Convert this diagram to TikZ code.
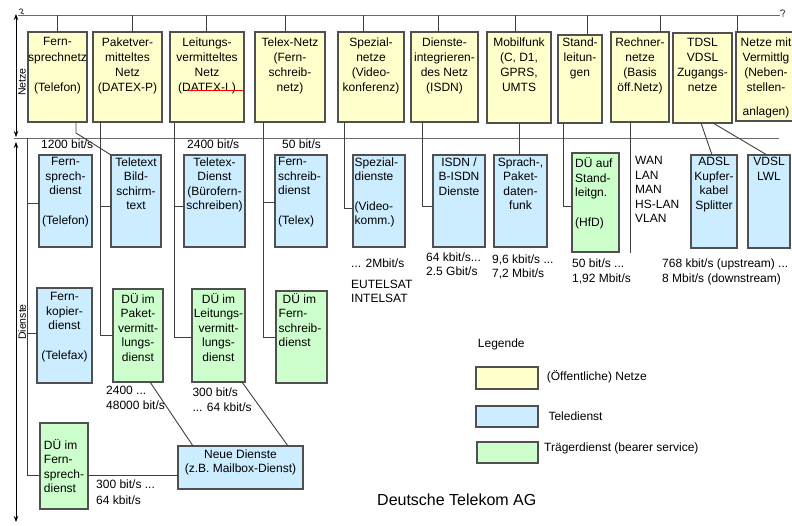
\documentclass[tikz,border=0pt]{standalone}
\usepackage{fontspec}
\setmainfont{Liberation Sans}
\usetikzlibrary{arrows.meta}

\definecolor{netzfill}{HTML}{FFFFCC}
\definecolor{telefill}{HTML}{CCECFF}
\definecolor{traegerfill}{HTML}{CCFFCC}
\definecolor{boxline}{HTML}{505050}
\definecolor{wirecol}{HTML}{404040}
\definecolor{railcol}{HTML}{6A6A6A}

\newcommand\netzfont{\fontsize{12}{15.2}\selectfont}
\newcommand\boxfont{\fontsize{12}{14.5}\selectfont}

\tikzset{
  box/.style={draw=boxline, line width=1.2pt, inner sep=0pt, outer sep=0pt, anchor=north west},
  netz/.style={box, fill=netzfill},
  tele/.style={box, fill=telefill},
  traeger/.style={box, fill=traegerfill},
  wire/.style={draw=wirecol, line width=0.9pt},
  rail/.style={draw=railcol, line width=1pt},
  ctext/.style={font=\boxfont, align=center, inner sep=0pt, anchor=north,
    execute at begin node={\rule{0pt}{11pt}}},
  ltext/.style={font=\boxfont, align=left, inner sep=0pt, anchor=north west,
    execute at begin node={\rule{0pt}{11pt}}},
  axisline/.style={draw=black, line width=0.8pt,
    {Stealth[length=6pt,width=4.5pt]}-{Stealth[length=6pt,width=4.5pt]}},
}

\begin{document}
\begin{tikzpicture}[x=1pt,y=-1pt]
\clip (0,0) rectangle (792,525);

% ---------------- axes and rails ----------------
\coordinate (topL) at (18,15);
\coordinate (topR) at (780,15);
\coordinate (midL) at (14,138);
\coordinate (midR) at (779,138);
\coordinate (axN1) at (16,14);
\coordinate (axN2) at (16,137);
\coordinate (axD1) at (16,142);
\coordinate (axD2) at (16,522);

\draw[rail] (topL) -- (topR);
\draw[rail] (midL) -- (midR);
\draw[axisline] (axN1) -- (axN2);
\draw[axisline] (axD1) -- (axD2);
\node[font=\fontsize{10.5}{12}\selectfont, rotate=90, inner sep=0pt] (axNT) at (22,82) {Netze};
\node[font=\fontsize{10.5}{12}\selectfont, rotate=90, inner sep=0pt] (axDT) at (22,322) {Dienste};

% break marks at the ends of the upper rail
\draw[wirecol, line width=0.8pt] (19,10) .. controls (21,7) and (25,10) .. (21,13) -- (24,14);
\draw[wirecol, line width=0.8pt] (780,11) .. controls (783,8) and (787,11) .. (783,14) -- (783,17);

% ---------------- networks ----------------
\node[netz, minimum width=59pt, minimum height=90pt] (fsn) at (28,32) {};
\node[netz, minimum width=69pt, minimum height=90pt] (pak) at (93,32) {};
\node[netz, minimum width=74pt, minimum height=90pt] (leit) at (170,32) {};
\node[netz, minimum width=70pt, minimum height=90pt] (telex) at (255,32) {};
\node[netz, minimum width=66pt, minimum height=90pt] (spez) at (338,32) {};
\node[netz, minimum width=67pt, minimum height=90pt] (isdn) at (411,32) {};
\node[netz, minimum width=64pt, minimum height=91pt] (mob) at (487,32) {};
\node[netz, minimum width=44pt, minimum height=88pt] (std) at (558,35) {};
\node[netz, minimum width=58pt, minimum height=90pt] (rn) at (611,32) {};
\node[netz, minimum width=59pt, minimum height=90pt] (tdsl) at (673,33) {};
\node[netz, minimum width=64pt, minimum height=89pt] (nmv) at (736,32) {};

\node[ctext, font=\netzfont] (fsnT) at ([yshift=-5.5pt]fsn.north) {Fern-\\sprechnetz\\[15pt](Telefon)};
\node[ctext, font=\netzfont] (pakT) at ([yshift=-5.5pt]pak.north) {Paketver-\\mitteltes\\Netz\\(DATEX-P)};
\node[ctext, font=\netzfont] (leitT) at ([yshift=-5.5pt]leit.north) {Leitungs-\\vermitteltes\\Netz\\(DATEX-L)};
\node[ctext, font=\netzfont] (telexT) at ([yshift=-5.5pt]telex.north) {Telex-Netz\\(Fern-\\schreib-\\netz)};
\node[ctext, font=\netzfont] (spezT) at ([yshift=-5.5pt]spez.north) {Spezial-\\netze\\(Video-\\konferenz)};
\node[ctext, font=\netzfont] (isdnT) at ([yshift=-5.5pt]isdn.north) {Dienste-\\integrieren-\\des Netz\\(ISDN)};
\node[ctext, font=\netzfont] (mobT) at ([yshift=-5.5pt]mob.north) {Mobilfunk\\(C, D1,\\GPRS,\\UMTS};
\node[ctext, font=\netzfont] (stdT) at ([yshift=-2.5pt]std.north) {Stand-\\leitun-\\gen};
\node[ctext, font=\netzfont] (rnT) at ([yshift=-5.5pt]rn.north) {Rechner-\\netze\\(Basis\\öff.Netz)};
\node[ctext, font=\netzfont] (tdslT) at ([yshift=-4.5pt]tdsl.north) {TDSL\\VDSL\\Zugangs-\\netze};
\node[ctext, font=\netzfont] (nmvT) at ([xshift=-2pt,yshift=-5.5pt]nmv.north) {Netze mit\\Vermittlg\\(Neben-\\stellen-\\[8pt]anlagen)};

% DATEX-L is struck through
\draw[red, line width=1pt] (188,90) -- (244,90);

% ---------------- services, first row ----------------
\node[tele, minimum width=53pt, minimum height=92pt] (fsd) at (39,155) {};
\node[tele, minimum width=50pt, minimum height=92pt] (ttx) at (111,155) {};
\node[tele, minimum width=61pt, minimum height=92pt] (ttd) at (184,155) {};
\node[tele, minimum width=52pt, minimum height=92pt] (fsbd) at (275,155) {};
\node[tele, minimum width=52pt, minimum height=92pt] (spd) at (353,155) {};
\node[tele, minimum width=52pt, minimum height=92pt] (isd) at (433,155) {};
\node[tele, minimum width=53pt, minimum height=92pt] (spr) at (494,155) {};
\node[traeger, minimum width=47pt, minimum height=99pt] (dstd) at (572,153) {};
\node[tele, minimum width=46pt, minimum height=93pt] (adsl) at (691,155) {};
\node[tele, minimum width=42pt, minimum height=93pt] (vdsl) at (748,155) {};

\node[ctext] (fsdT) at ([yshift=-2.3pt]fsd.north) {Fern-\\sprech-\\dienst\\[15pt](Telefon)};
\node[ctext] (ttxT) at ([yshift=-2.3pt]ttx.north) {Teletext\\Bild-\\schirm-\\text};
\node[ctext] (ttdT) at ([yshift=-2.3pt]ttd.north) {Teletex-\\Dienst\\(Bürofern-\\schreiben)};
\node[ltext] (fsbdT) at ([xshift=3pt,yshift=-2.3pt]fsbd.north west) {Fern-\\schreib-\\dienst\\[15pt](Telex)};
\node[ltext] (spdT) at ([xshift=1.5pt,yshift=-2.3pt]spd.north west) {Spezial-\\dienste\\[15pt](Video-\\komm.)};
\node[ctext] (isdT) at ([yshift=-2.3pt]isd.north) {ISDN /\\B-ISDN\\Dienste};
\node[ctext] (sprT) at ([yshift=-2.3pt]spr.north) {Sprach-,\\Paket-\\daten-\\funk};
\node[ltext] (dstdT) at ([xshift=3pt,yshift=-4.3pt]dstd.north west) {DÜ auf\\Stand-\\leitgn.\\[15pt](HfD)};
\node[ctext] (adslT) at ([yshift=-2.3pt]adsl.north) {ADSL\\Kupfer-\\kabel\\Splitter};
\node[ctext] (vdslT) at ([yshift=-2.3pt]vdsl.north) {VDSL\\LWL};

\node[ltext] (wanT) at (635,156.3) {WAN\\LAN\\MAN\\HS-LAN\\VLAN};

% ---------------- services, second row ----------------
\node[tele, minimum width=55pt, minimum height=95pt] (fkd) at (37,288) {};
\node[traeger, minimum width=50pt, minimum height=93pt] (dpak) at (113,289) {};
\node[traeger, minimum width=53pt, minimum height=93pt] (dleit) at (192,289) {};
\node[traeger, minimum width=51pt, minimum height=92pt] (dfsb) at (276,291) {};

\node[ctext] (fkdT) at ([yshift=-4.3pt]fkd.north) {Fern-\\kopier-\\dienst\\[15pt](Telefax)};
\node[ctext] (dpakT) at ([yshift=-4pt]dpak.north) {DÜ im\\Paket-\\vermitt-\\lungs-\\dienst};
\node[ctext] (dleitT) at ([yshift=-4pt]dleit.north) {DÜ im\\Leitungs-\\vermitt-\\lungs-\\dienst};
\node[ltext] (dfsbT) at ([xshift=2.5pt,yshift=-2pt]dfsb.north west) {\hspace{4pt}DÜ im\\Fern-\\schreib-\\dienst};

% ---------------- services, third row ----------------
\node[traeger, minimum width=48pt, minimum height=86pt] (dfs) at (40,423) {};
\node[tele, minimum width=125pt, minimum height=43pt] (neue) at (178,446) {};

\node[font=\boxfont, align=left, inner sep=0pt] (dfsT) at (dfs.center) {DÜ im\\Fern-\\sprech-\\dienst};
\node[ctext] (neueT) at ([yshift=-3.3pt]neue.north) {Neue Dienste\\(z.B. Mailbox-Dienst)};

% ---------------- transmission rates ----------------
\node[ltext] (r1) at (41,137.3) {1200 bit/s};
\node[ltext] (r2) at (187,137.3) {2400 bit/s};
\node[ltext] (r3) at (282,137.3) {50 bit/s};
\node[ltext] (r4) at (351,256) {... 2Mbit/s};
\node[ltext] (sat) at (351,279.5) {EUTELSAT\\INTELSAT};
\node[ltext, font=\fontsize{12}{14}\selectfont] (r5) at (426,253) {64 kbit/s...\\2.5 Gbit/s};
\node[ltext, font=\fontsize{12}{14}\selectfont] (r6) at (492,255) {9,6 kbit/s ...\\7,2 Mbit/s};
\node[ltext, font=\fontsize{12}{14.3}\selectfont] (r7) at (572,259) {50 bit/s ...\\1,92 Mbit/s};
\node[ltext, font=\fontsize{12}{14.3}\selectfont] (r8) at (662,259) {768 kbit/s (upstream) ...\\8 Mbit/s (downstream)};
\node[ltext, font=\fontsize{12}{15}\selectfont] (r9) at (106,385.7) {2400 ...\\48000 bit/s};
\node[ltext, font=\fontsize{12}{15}\selectfont] (r10) at (192.3,387.3) {300 bit/s\\... 64 kbit/s};
\node[ltext, font=\fontsize{12}{15.5}\selectfont] (r11) at (96,479.7) {300 bit/s ...\\64 kbit/s};

% ---------------- connectors ----------------
% from the upper rail to each network
\draw[wire] (fsn.north) -- (fsn.north |- topL);
\draw[wire] ([xshift=4.5pt]pak.north) -- ([xshift=4.5pt]pak.north |- topL);
\draw[wire] ([xshift=-1pt]leit.north) -- ([xshift=-1pt]leit.north |- topL);
\draw[wire] ([xshift=-5pt]telex.north) -- ([xshift=-5pt]telex.north |- topL);
\draw[wire] ([xshift=-8pt]spez.north) -- ([xshift=-8pt]spez.north |- topL);
\draw[wire] ([xshift=-6.5pt]isdn.north) -- ([xshift=-6.5pt]isdn.north |- topL);
\draw[wire] ([xshift=-4pt]mob.north) -- ([xshift=-4pt]mob.north |- topL);
\draw[wire] ([xshift=7pt]std.north) -- ([xshift=7pt]std.north |- topL);
\draw[wire] ([xshift=20pt]rn.north) -- ([xshift=20pt]rn.north |- topL);
\draw[wire] ([xshift=1pt]nmv.north west) -- ([xshift=1pt]nmv.north west |- topL);

% telephone network feeds the videotex service
\draw[wire] ([xshift=18.5pt]fsn.south) -- ++(0,11) -- (ttx.north west);

% telephone services column
\coordinate (col1) at (27,138);
\draw[wire] (col1) |- ([yshift=-2pt]fsd.west);
\draw[wire] (col1) |- ([yshift=2.5pt]fkd.west);
\draw[wire] (col1) |- ([yshift=-9pt]dfs.west);

% packet switched network
\coordinate (col2) at ([xshift=-27.5pt]pak.south);
\draw[wire] (col2) |- ([yshift=-5pt]ttx.west);
\draw[wire] (col2) |- (dpak.west);

% circuit switched network
\coordinate (col3) at ([xshift=-33pt]leit.south);
\draw[wire] (col3) |- ([yshift=-5pt]ttd.west);
\draw[wire] (col3) |- ([yshift=-1.5pt]dleit.west);

% telex network
\coordinate (col4) at ([xshift=-27pt]telex.south);
\draw[wire] (col4) |- ([yshift=-1pt]fsbd.west);
\draw[wire] (col4) |- (dfsb.west);

% special networks, ISDN, mobile, leased lines
\draw[wire] ([xshift=-27pt]spez.south) |- ([yshift=-7pt]spd.west);
\draw[wire] ([xshift=-22.5pt]isdn.south) |- ([yshift=-5pt]isd.west);
\draw[wire] (mob.south) -- (mob.south |- spr.north);
\draw[wire] ([xshift=-17pt]std.south) |- ([yshift=-3.5pt]dstd.west);

% computer networks
\coordinate (rnEnd) at (630,253);
\draw[wire] ([xshift=-10pt]rn.south) -- (rnEnd);

% access networks
\draw[wire] ([xshift=-1.5pt]tdsl.south) -- ([xshift=-2pt]adsl.north);
\draw[wire] ([xshift=10.5pt]tdsl.south) -- ([xshift=-2pt]vdsl.north);

% new services
\draw[wire] ([xshift=12pt]dpak.south) -- ([xshift=-47.5pt]neue.north);
\draw[wire] ([xshift=23.5pt]dleit.south) -- ([xshift=47.5pt]neue.north);
\draw[wire] ([yshift=-9pt]dfs.east) -- ([yshift=-9pt]dfs.east -| neue.west);

% ---------------- legend ----------------
\node[ltext] (legT) at (477.7,336.5) {Legende};
\node[netz, minimum width=62pt, minimum height=22pt] (legN) at (476,367) {};
\node[tele, minimum width=62pt, minimum height=21pt] (legD) at (476,406) {};
\node[traeger, minimum width=61pt, minimum height=21pt] (legT2) at (477,442) {};
\node[ltext] (legNT) at (546.7,369) {(Öffentliche) Netze};
\node[ltext] (legDT) at (548.3,409) {Teledienst};
\node[ltext] (legTT) at (544,440) {Trägerdienst (bearer service)};

\node[font=\fontsize{16}{19}\selectfont, inner sep=0pt, anchor=base west] (dtag) at (377,505) {Deutsche Telekom AG};

\end{tikzpicture}
\end{document}
